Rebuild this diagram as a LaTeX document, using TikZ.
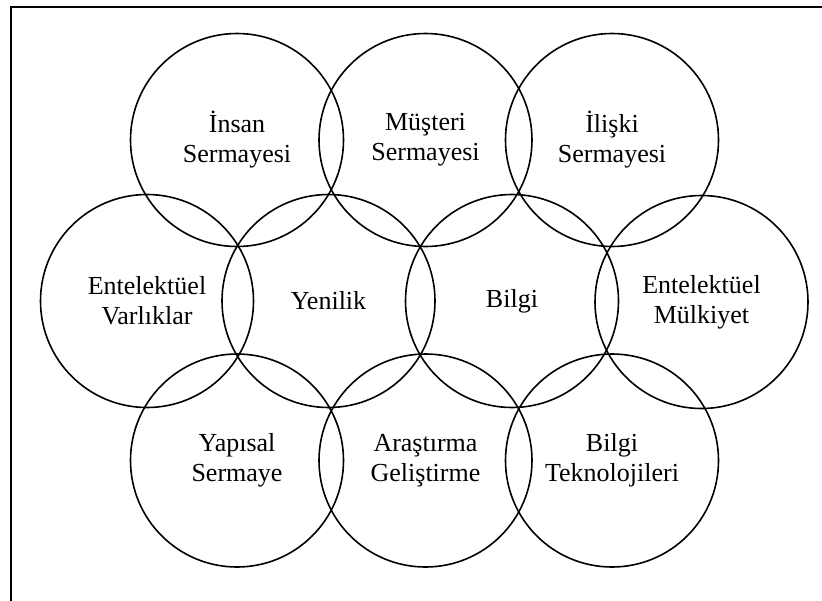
\documentclass[tikz,border=0pt]{standalone}
\usepackage{fontspec}
\setmainfont{Liberation Serif}
\begin{document}
\begin{tikzpicture}[x=1pt,y=-1pt,
  ring/.style={draw=black,line width=1.6pt,circle,minimum size=213pt,inner sep=0pt,align=center,
    font=\fontsize{26}{30}\selectfont},
  frame/.style={draw=black,line width=2.5pt}]
\useasboundingbox (0,0) rectangle (822,600);
\coordinate (fb) at (11,601);
\coordinate (fc) at (11,7);
\coordinate (fr) at (823,7);
\draw[frame] (fb) -- (fc) -- (fr);
\node[ring] (ins) at (237,140) {İnsan\\Sermayesi};
\node[ring] (mus) at (425.5,140) {Müşteri\\Sermayesi};
\node[ring] (ili) at (612,140) {İlişki\\Sermayesi};
\node[ring] (ev) at (147,301) {Entelektüel\\Varlıklar};
\node[ring] (yen) at (328.5,301) {Yenilik};
\node[ring] (bil) at (512,301) {Bilgi};
\node[ring] (em) at (701.5,302) {Entelektüel\\Mülkiyet};
\node[ring] (yap) at (237,460.5) {Yapısal\\Sermaye};
\node[ring] (arg) at (425.5,460.5) {Araştırma\\Geliştirme};
\node[ring] (bt) at (612,460.5) {Bilgi\\Teknolojileri};
\end{tikzpicture}
\end{document}
